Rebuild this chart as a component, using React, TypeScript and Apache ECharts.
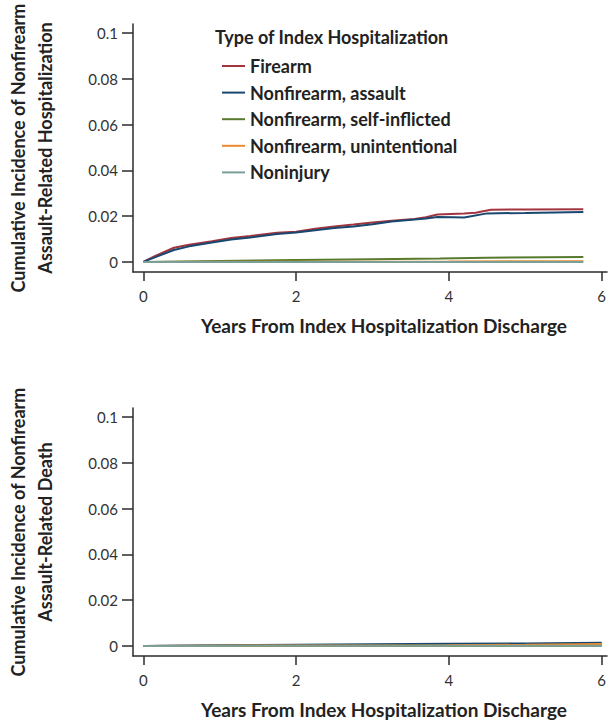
import React, { useEffect, useRef } from "react";
import * as echarts from "echarts";

const seriesNames = [
  "Firearm",
  "Nonfirearm, assault",
  "Nonfirearm, self-inflicted",
  "Nonfirearm, unintentional",
  "Noninjury",
];
const seriesColors = ["#a3343e", "#18476f", "#577a2c", "#ec8a2e", "#7b9f97"];

const xTicks = [0, 2, 4, 6];
const yTicks = [0, 0.02, 0.04, 0.06, 0.08, 0.1];
const yTickLabels = ["0", "0.02", "0.04", "0.06", "0.08", "0.1"];

// Panel A: nonfirearm assault-related hospitalization
const hospFirearmX = [0, 0.15, 0.4, 0.6, 0.9, 1.15, 1.4, 1.75, 2.0, 2.25, 2.5, 2.75, 3.0, 3.25, 3.55, 3.7, 3.85, 4.2, 4.35, 4.55, 5.0, 5.76];
const hospFirearmY = [0, 0.0025, 0.0062, 0.0075, 0.009, 0.0105, 0.0113, 0.0127, 0.0132, 0.0145, 0.0155, 0.0163, 0.0172, 0.018, 0.0187, 0.0195, 0.0207, 0.0212, 0.0215, 0.0228, 0.0229, 0.023];
const hospAssaultX = [0, 0.15, 0.4, 0.6, 0.9, 1.15, 1.4, 1.75, 2.0, 2.25, 2.5, 2.75, 3.0, 3.25, 3.55, 3.7, 3.85, 4.05, 4.2, 4.5, 5.0, 5.76];
const hospAssaultY = [0, 0.002, 0.0052, 0.0068, 0.0085, 0.0098, 0.0107, 0.0122, 0.0128, 0.0138, 0.0148, 0.0155, 0.0165, 0.0177, 0.0185, 0.019, 0.0196, 0.0195, 0.0194, 0.0212, 0.0214, 0.0218];
const hospSelfX = [0, 1, 2, 3, 3.88, 4.5, 5.76];
const hospSelfY = [0, 0.0004, 0.0008, 0.0012, 0.0015, 0.0018, 0.0022];
const hospUnintX = [0, 2, 4, 5.76];
const hospUnintY = [0, 0.0001, 0.0002, 0.0003];
const hospNoninjX = [0, 5.76];
const hospNoninjY = [0, 0];

// Panel B: nonfirearm assault-related death
const deathFirearmX = [0, 2, 4, 6];
const deathFirearmY = [0, 0.0001, 0.0002, 0.0004];
const deathAssaultX = [0, 1, 2, 3, 4, 5, 6];
const deathAssaultY = [0, 0.0003, 0.0005, 0.0007, 0.0009, 0.0011, 0.0014];
const deathSelfX = [0, 6];
const deathSelfY = [0, 0.0001];
const deathUnintX = [0, 2, 4, 5, 6];
const deathUnintY = [0, 0.0002, 0.0003, 0.0005, 0.0008];
const deathNoninjX = [0, 6];
const deathNoninjY = [0, 0.0001];

const hospData = [
  [hospFirearmX, hospFirearmY],
  [hospAssaultX, hospAssaultY],
  [hospSelfX, hospSelfY],
  [hospUnintX, hospUnintY],
  [hospNoninjX, hospNoninjY],
];
const deathData = [
  [deathFirearmX, deathFirearmY],
  [deathAssaultX, deathAssaultY],
  [deathSelfX, deathSelfY],
  [deathUnintX, deathUnintY],
  [deathNoninjX, deathNoninjY],
];

const xTitle = "Years From Index Hospitalization Discharge";
const yTitleA = "Cumulative Incidence of Nonfirearm\nAssault-Related Hospitalization";
const yTitleB = "Cumulative Incidence of Nonfirearm\nAssault-Related Death";
const legendTitle = "Type of Index Hospitalization";

const FONT = "Lato, 'Open Sans', sans-serif";
const AXIS_COLOR = "#2b2b2b";

function pairs(xs: number[], ys: number[]) {
  return xs.map((x, i) => [x, ys[i]]);
}

function makeXAxis(gridIndex: number) {
  return {
    type: "value",
    gridIndex,
    min: -0.135,
    max: 6.07,
    name: xTitle,
    nameLocation: "middle",
    nameGap: 44,
    nameTextStyle: {
      fontFamily: FONT,
      fontSize: 19,
      fontWeight: "bold",
      color: "#222",
      padding: [0, 0, 0, 28],
    },
    splitLine: { show: false },
    axisLine: { show: true, onZero: false, lineStyle: { color: AXIS_COLOR, width: 1.5 } },
    axisTick: {
      show: true,
      inside: false,
      length: 9,
      customValues: xTicks,
      lineStyle: { color: AXIS_COLOR, width: 1.5 },
    },
    axisLabel: {
      customValues: xTicks,
      margin: 16,
      fontFamily: FONT,
      fontSize: 15,
      color: "#333",
      formatter: (v: number) => String(v),
    },
  };
}

function makeYAxis(gridIndex: number, title: string) {
  return {
    type: "value",
    gridIndex,
    min: -0.0044,
    max: 0.1039,
    name: title,
    nameLocation: "middle",
    nameRotate: 90,
    nameGap: 75,
    nameTextStyle: {
      fontFamily: FONT,
      fontSize: 18,
      fontWeight: "bold",
      color: "#222",
      lineHeight: 27,
    },
    splitLine: { show: false },
    axisLine: { show: true, onZero: false, lineStyle: { color: AXIS_COLOR, width: 1.5 } },
    axisTick: {
      show: true,
      inside: false,
      length: 11,
      customValues: yTicks,
      lineStyle: { color: AXIS_COLOR, width: 1.5 },
    },
    axisLabel: {
      customValues: yTicks,
      margin: 15,
      fontFamily: FONT,
      fontSize: 15,
      color: "#333",
      formatter: (v: number) => {
        const idx = yTicks.findIndex((t) => Math.abs(t - v) < 1e-9);
        return idx >= 0 ? yTickLabels[idx] : "";
      },
    },
  };
}

export default function App() {
  const ref = useRef<HTMLDivElement>(null);
  useEffect(() => {
    document.body.style.margin = "0";
    if (!ref.current) return;
    const chart = echarts.init(ref.current, undefined, { renderer: "svg" });
    const series: any[] = [];
    hospData.forEach(([xs, ys], i) => {
      series.push({
        type: "line",
        name: seriesNames[i],
        xAxisIndex: 0,
        yAxisIndex: 0,
        data: pairs(xs, ys),
        showSymbol: false,
        symbol: "none",
        lineStyle: { color: seriesColors[i], width: 2 },
        itemStyle: { color: seriesColors[i] },
      });
    });
    deathData.forEach(([xs, ys], i) => {
      series.push({
        type: "line",
        name: seriesNames[i],
        xAxisIndex: 1,
        yAxisIndex: 1,
        data: pairs(xs, ys),
        showSymbol: false,
        symbol: "none",
        lineStyle: { color: seriesColors[i], width: 2 },
        itemStyle: { color: seriesColors[i] },
      });
    });
    chart.setOption({
      animation: false,
      backgroundColor: "#ffffff",
      title: {
        text: legendTitle,
        left: 215,
        top: 28,
        padding: 0,
        textStyle: { fontFamily: FONT, fontSize: 18, fontWeight: "bold", color: "#222" },
      },
      legend: {
        orient: "vertical",
        left: 222,
        top: 55,
        padding: 0,
        itemGap: 4.6,
        itemWidth: 23,
        itemHeight: 2,
        icon: "rect",
        data: seriesNames,
        textStyle: {
          fontFamily: FONT,
          fontSize: 18,
          fontWeight: "bold",
          color: "#222",
          lineHeight: 22,
        },
      },
      grid: [
        { left: 133, top: 24, width: 474, height: 248, outerBoundsMode: "none", containLabel: false },
        { left: 133, top: 408, width: 474, height: 248, outerBoundsMode: "none", containLabel: false },
      ],
      xAxis: [makeXAxis(0), makeXAxis(1)],
      yAxis: [makeYAxis(0, yTitleA), makeYAxis(1, yTitleB)],
      series,
    });
    return () => chart.dispose();
  }, []);
  return <div ref={ref} style={{ width: 609, height: 722 }} />;
}
